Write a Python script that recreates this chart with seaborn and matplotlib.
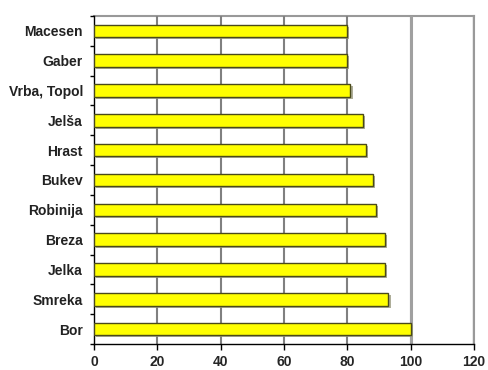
import matplotlib
matplotlib.use("Agg")
import matplotlib.pyplot as plt
import matplotlib.patheffects as pe
from matplotlib.ticker import FixedLocator
import seaborn as sns
import pandas as pd
import numpy as np

species = ["Macesen", "Gaber", "Vrba, Topol", "Jelša", "Hrast", "Bukev",
           "Robinija", "Breza", "Jelka", "Smreka", "Bor"]
values = [80, 80, 81, 85, 86, 88, 89, 92, 92, 93, 100]
x_ticks = [0, 20, 40, 60, 80, 100, 120]

df = pd.DataFrame({"species": species, "value": values})

sns.set_style("white")
plt.rcParams["font.family"] = ["Liberation Sans", "DejaVu Sans"]

fig = plt.figure(figsize=(4.88, 3.70), dpi=100)
ax = fig.add_axes([0.1926, 0.0703, 0.7787, 0.8867])

sns.barplot(data=df, x="value", y="species", order=species, orient="h",
            color="#ffff00", saturation=1, width=0.42, edgecolor="#4a4a1a",
            linewidth=1.0, ax=ax, zorder=3)

for p in ax.patches:
    p.set_path_effects([pe.SimplePatchShadow(offset=(1.5, -1.5),
                                             shadow_rgbFace="#9a9a80", alpha=0.8),
                        pe.Normal()])

ax.set_xlim(0, 120)
ax.set_ylim(len(species) - 0.5, -0.5)
ax.xaxis.set_major_locator(FixedLocator(x_ticks))
ax.set_xticklabels([str(t) for t in x_ticks], fontsize=10, fontweight="bold")
ax.set_yticklabels(species, fontsize=10, fontweight="bold", color="#222222")

for t in x_ticks[1:-1]:
    ax.axvline(t, color="#808080", lw=1.5, zorder=1)
ax.axvline(100, color="#a0a0a0", lw=2.2, zorder=1)
ax.axvline(120, color="#b0b0b0", lw=2.5, zorder=1)

ax.set_xlabel("")
ax.set_ylabel("")

for side in ["top", "right"]:
    ax.spines[side].set_color("#999999")
    ax.spines[side].set_linewidth(1.5)
for side in ["left", "bottom"]:
    ax.spines[side].set_color("black")
    ax.spines[side].set_linewidth(1.0)
ax.spines["top"].set_zorder(0)

ax.yaxis.set_minor_locator(FixedLocator(np.arange(-0.5, len(species), 1.0)))
ax.tick_params(axis="y", which="major", length=0, pad=8)
ax.tick_params(axis="y", which="minor", length=3, width=1, color="black", left=True)
ax.tick_params(axis="x", which="major", length=4, width=1, color="black",
               bottom=True, pad=4)

fig.savefig("out.png", dpi=100)
